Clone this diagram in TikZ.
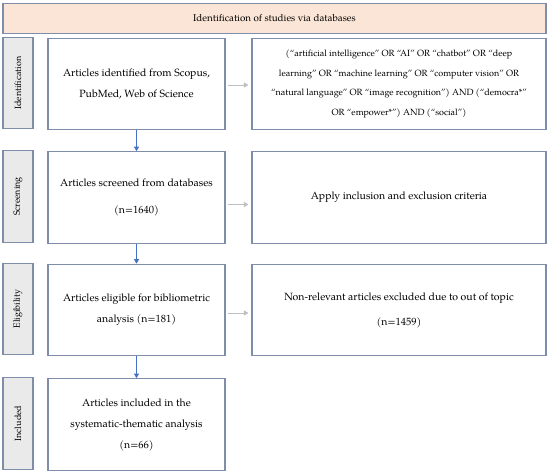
\documentclass[tikz,border=0pt]{standalone}
\usepackage{fontspec}
\setmainfont{texgyrepagella-regular.otf}
\usepackage{xcolor}
\usepackage{tikz}
\usetikzlibrary{arrows.meta}
\definecolor{frame}{HTML}{7F8CAA}
\definecolor{head}{HTML}{FBE5D6}
\definecolor{side}{HTML}{EAEAEA}
\definecolor{flow}{HTML}{4472C4}
\definecolor{note}{HTML}{BFBFBF}
\tikzset{
  box/.style={draw=frame, line width=1.1pt, fill=white, align=center, inner sep=2pt,
    font=\fontsize{10.5}{21}\selectfont},
  headbox/.style={box, fill=head, minimum width=543pt, minimum height=30pt,
    font=\fontsize{9.8}{12}\selectfont},
  sidebox/.style={draw=frame, line width=1.1pt, fill=side, rotate=90, inner sep=1pt,
    minimum width=91.5pt, minimum height=30pt, font=\fontsize{9}{11}\selectfont},
  leftbox/.style={box, minimum width=177pt, minimum height=91.5pt},
  rightbox/.style={box, minimum width=294pt, minimum height=91.5pt},
  querytext/.style={font=\fontsize{9}{19.4}\selectfont},
  down/.style={draw=flow, line width=0.8pt, -{Triangle[width=5pt,length=4.5pt]}},
  aside/.style={draw=note, line width=0.8pt, shorten <=2pt, shorten >=3pt,
    -{Triangle[width=5pt,length=4.5pt]}}
}
\begin{document}
\begin{tikzpicture}[x=1pt, y=-1pt]
  \useasboundingbox (0,0) rectangle (550,473);

  \node[headbox] (head) at (274.5,18.5) {Identification of studies via databases};

  \node[sidebox] (sId) at (18,83) {Identification};
  \node[sidebox] (sScr) at (18,196.5) {Screening};
  \node[sidebox] (sElig) at (18,309) {Eligibility};
  \node[sidebox] (sIncl) at (18,423.5) {Included};

  \node[leftbox] (found) at (136.5,84) {Articles identified from Scopus,\\PubMed, Web of Science};
  \node[leftbox] (screened) at (136.5,197.5) {Articles screened from databases\\[6pt](n=1640)};
  \node[leftbox] (eligible) at (136.5,310) {Articles eligible for bibliometric\\analysis (n=181)};
  \node[leftbox] (included) at (136.5,424.5) {Articles included in the\\systematic-thematic analysis\\(n=66)};

  \node[rightbox, querytext] (query) at (399,84) {(“artificial intelligence” OR “AI” OR “chatbot” OR “deep\\learning” OR “machine learning” OR “computer vision” OR\\“natural language” OR “image recognition”) AND (“democra*”\\OR “empower*”) AND (“social”)};
  \node[rightbox] (criteria) at (399,197.5) {Apply inclusion and exclusion criteria};
  \node[rightbox] (excluded) at (399,310) {Non-relevant articles excluded due to out of topic\\[4pt](n=1459)};

  \draw[down] (found) -- (screened);
  \draw[down] (screened) -- (eligible);
  \draw[down] (eligible) -- (included);

  \draw[aside] ([yshift=-1pt]found.east) -- ([yshift=-1pt]query.west);
  \draw[aside] ([yshift=-7pt]screened.east) -- ([yshift=-7pt]criteria.west);
  \draw[aside] ([yshift=-3pt]eligible.east) -- ([yshift=-3pt]excluded.west);
\end{tikzpicture}
\end{document}
